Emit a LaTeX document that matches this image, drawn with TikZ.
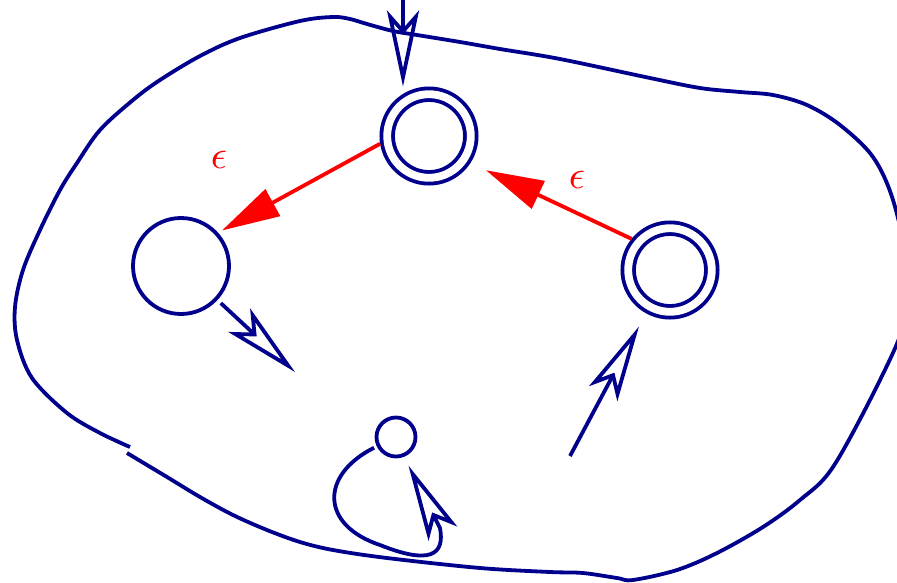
\documentclass[tikz,border=0pt]{standalone}
\usepackage{amsmath,amssymb}
\usetikzlibrary{arrows.meta}
\definecolor{figN}{RGB}{0,0,140}
\definecolor{figR}{RGB}{255,0,0}

\begin{document}
\begin{tikzpicture}[x=1pt,y=-1pt,
  state/.style={circle,draw=figN,line width=3.8pt,inner sep=0pt,minimum size=96pt},
  accept/.style={state,double,double distance=7.8pt,minimum size=83.6pt,outer sep=7.7pt},
  navyarrow/.style={draw=figN,line width=3.8pt,-{Stealth[open,length=76pt,width=32pt,inset=18pt]}},
  eps/.style={draw=figR,line width=3.8pt,-{Triangle[length=58pt,width=30pt]}},
  epslabel/.style={text=figR,scale=4}]
\useasboundingbox (0,0) rectangle (897,582);
\draw[figN,line width=3.8pt] plot[smooth,tension=0.55] coordinates {
  (130,447) (100,433) (67,413) (32,378) (17,340) (15,307) (23,270) (40,230)
  (60,190) (77,163) (100,130) (133,100) (160,80) (200,56) (240,38) (300,21)
  (333,17) (350,19) (367,24) (393,31) (417,35) (460,42) (500,49) (560,59)
  (650,78) (700,88) (740,92) (773,95) (807,105) (840,125) (873,157) (893,200)
  (907,265) (905,320) (880,380) (833,467) (800,500) (763,527) (717,553) (677,570)
  (633,580) (617,578) (583,573) (550,572) (480,568) (387,558) (333,550) (300,542)
  (267,530) (233,515) (200,497) (167,477) (127,453)};
\node[accept] (q1) at (429,136) {};
\node[state] (q0) at (181,266) {};
\node[accept] (q2) at (670,270) {};
\node[state,minimum size=39pt] (q3) at (396,437) {};
\coordinate (start) at (403,-10);
\coordinate (out0) at (295,372);
\coordinate (in2) at (570,456);
\draw[navyarrow] (start) -- (start |- q1.north);
\draw[navyarrow,shorten <=4.5pt] (q0.-43) -- (out0);
\draw[navyarrow,shorten >=15pt] (in2) -- (q2.241);
\draw[navyarrow,shorten <=3pt,shorten >=10pt] (q3.206) .. controls (320,475) and (320,525) .. (380,545)
  .. controls (430,565) and (445,555) .. (440,528) -- (q3.292);
\draw[eps,shorten >=4.5pt] (q1.189) -- (q0.42);
\draw[eps,shorten >=17pt] (q2.141) -- (q1.-33);
\node[epslabel] (e1) at (219,160) {$\epsilon$};
\node[epslabel] (e2) at (577,180) {$\epsilon$};
\end{tikzpicture}
\end{document}
